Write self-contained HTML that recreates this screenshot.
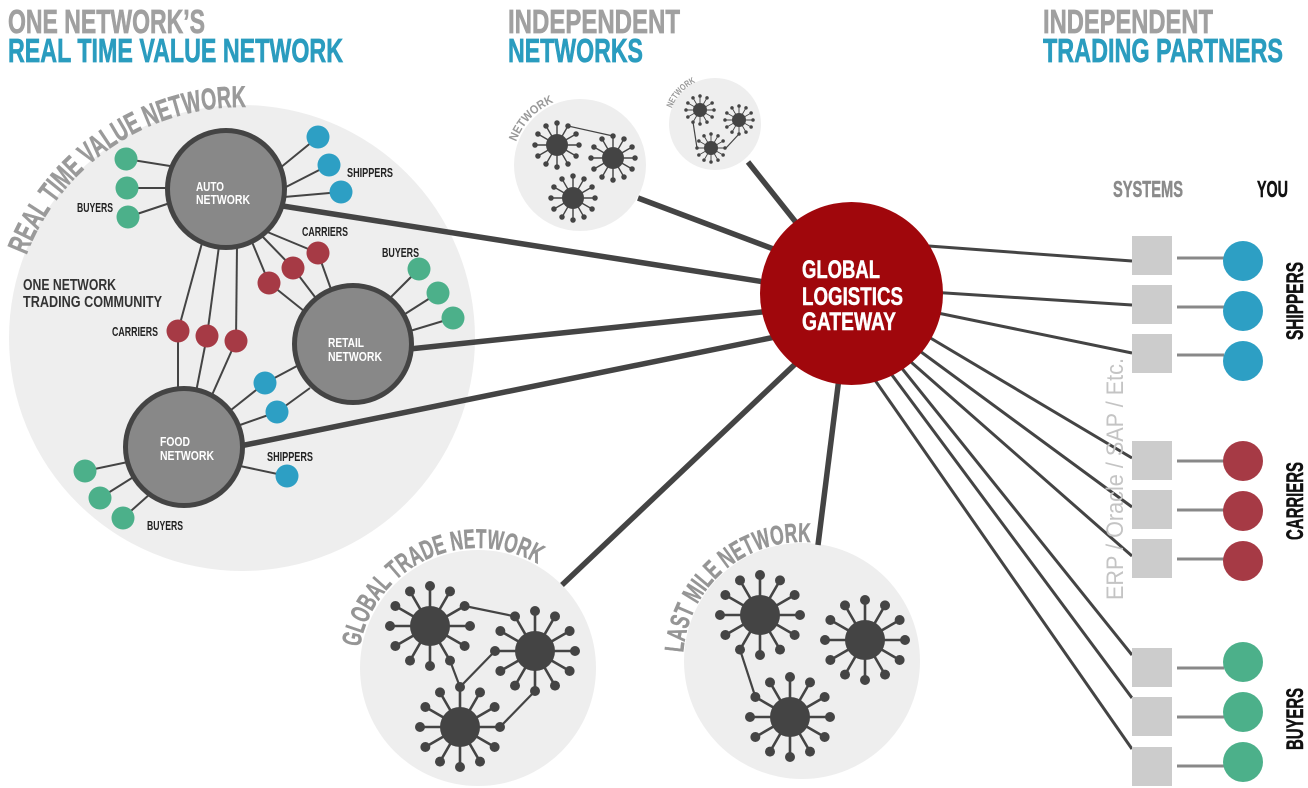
<!DOCTYPE html>
<html>
<head>
<meta charset="utf-8">
<style>
  html,body{margin:0;padding:0;background:#fff;}
  svg{display:block;}
  text{font-family:"Liberation Sans",sans-serif;}
</style>
</head>
<body>
<svg width="1308" height="788" viewBox="0 0 1308 788" xmlns="http://www.w3.org/2000/svg">
  <defs>
    <g id="hub">
      <path d="M-40 0H40M0 -40V40M-34.64 -20L34.64 20M-34.64 20L34.64 -20M-20 -34.64L20 34.64M-20 34.64L20 -34.64" stroke="#444" stroke-width="2.6" fill="none"/>
      <circle r="20" fill="#444"/>
      <g fill="#444">
        <circle cx="40" cy="0" r="5"/><circle cx="34.64" cy="20" r="5"/><circle cx="20" cy="34.64" r="5"/>
        <circle cx="0" cy="40" r="5"/><circle cx="-20" cy="34.64" r="5"/><circle cx="-34.64" cy="20" r="5"/>
        <circle cx="-40" cy="0" r="5"/><circle cx="-34.64" cy="-20" r="5"/><circle cx="-20" cy="-34.64" r="5"/>
        <circle cx="0" cy="-40" r="5"/><circle cx="20" cy="-34.64" r="5"/><circle cx="34.64" cy="-20" r="5"/>
      </g>
    </g>
    <path id="arcRTVN" d="M26.34 255.22 A231 231 0 0 1 246.03 107.03" fill="none"/>
    <path id="arcGTN" d="M359.82 647.16 A120 120 0 0 1 538 564.08" fill="none"/>
    <path id="arcLMN" d="M683.29 652.7 A119 119 0 0 1 810.3 542.29" fill="none"/>
    <path id="arcN1" d="M516.1 141.74 A68 68 0 0 1 553.43 102.41" fill="none"/>
    <path id="arcN2" d="M671.77 108.27 A46 46 0 0 1 695.56 82.31" fill="none"/>
  </defs>

  <!-- background circles -->
  <circle cx="242" cy="338" r="233" fill="#eeeeee"/>
  <circle cx="580" cy="165" r="66" fill="#eeeeee"/>
  <circle cx="715" cy="124" r="46" fill="#eeeeee"/>
  <circle cx="478" cy="668" r="118" fill="#eeeeee"/>
  <circle cx="802" cy="661" r="118" fill="#eeeeee"/>

  <!-- curved labels -->
  <text font-size="30" font-weight="bold" fill="#9a9a9a" stroke="#9a9a9a" stroke-width="0.6"><textPath href="#arcRTVN" textLength="282" lengthAdjust="spacingAndGlyphs">REAL TIME VALUE NETWORK</textPath></text>
  <text font-size="27" font-weight="bold" fill="#959595" stroke="#959595" stroke-width="0.5"><textPath href="#arcGTN" textLength="230" lengthAdjust="spacingAndGlyphs">GLOBAL TRADE NETWORK</textPath></text>
  <text font-size="27" font-weight="bold" fill="#959595" stroke="#959595" stroke-width="0.5"><textPath href="#arcLMN" textLength="187" lengthAdjust="spacingAndGlyphs">LAST MILE NETWORK</textPath></text>
  <text font-size="12" font-weight="bold" fill="#999"><textPath href="#arcN1" textLength="56" lengthAdjust="spacingAndGlyphs">NETWORK</textPath></text>
  <text font-size="9" font-weight="bold" fill="#999"><textPath href="#arcN2" textLength="36" lengthAdjust="spacingAndGlyphs">NETWORK</textPath></text>

  <!-- thick lines to gateway -->
  <g stroke="#444" stroke-width="5.5" stroke-linecap="butt">
    <line x1="270" y1="204" x2="790" y2="286"/>
    <line x1="400" y1="350" x2="790" y2="309"/>
    <line x1="235" y1="447" x2="790" y2="334"/>
    <line x1="638" y1="198" x2="800" y2="259"/>
    <line x1="748" y1="162" x2="810" y2="240"/>
    <line x1="562" y1="585" x2="810" y2="350"/>
    <line x1="818" y1="545" x2="840" y2="370"/>
  </g>

  <!-- right lines from gateway to systems -->
  <g stroke="#444" stroke-width="3">
    <line x1="915" y1="245" x2="1132" y2="261"/>
    <line x1="930" y1="292" x2="1132" y2="305"/>
    <line x1="928" y1="311" x2="1132" y2="353"/>
    <line x1="922" y1="333" x2="1132" y2="458"/>
    <line x1="913" y1="346" x2="1132" y2="507"/>
    <line x1="903" y1="355" x2="1132" y2="556"/>
    <line x1="896" y1="361" x2="1132" y2="655"/>
    <line x1="886" y1="367" x2="1132" y2="698"/>
    <line x1="870" y1="373" x2="1132" y2="749"/>
  </g>

  <!-- thin lines inside RTVN -->
  <g stroke="#444" stroke-width="2">
    <line x1="126" y1="159" x2="170" y2="166"/>
    <line x1="127" y1="188" x2="168" y2="188"/>
    <line x1="128" y1="217" x2="170" y2="203"/>
    <line x1="280" y1="168" x2="318" y2="137"/>
    <line x1="284" y1="188" x2="329" y2="165"/>
    <line x1="284" y1="197" x2="341" y2="192"/>
    <line x1="265" y1="231" x2="318" y2="253"/>
    <line x1="318" y1="253" x2="332" y2="292"/>
    <line x1="262" y1="236" x2="293" y2="268"/>
    <line x1="293" y1="268" x2="315" y2="297"/>
    <line x1="252" y1="242" x2="269" y2="283"/>
    <line x1="269" y1="283" x2="304" y2="311"/>
    <line x1="390" y1="298" x2="419" y2="269"/>
    <line x1="405" y1="314" x2="438" y2="293"/>
    <line x1="410" y1="331" x2="453" y2="318"/>
    <line x1="202" y1="243" x2="178" y2="331"/>
    <line x1="178" y1="331" x2="178" y2="392"/>
    <line x1="219" y1="246" x2="207" y2="336"/>
    <line x1="207" y1="336" x2="196" y2="392"/>
    <line x1="237" y1="246" x2="236" y2="341"/>
    <line x1="236" y1="341" x2="212" y2="395"/>
    <line x1="297" y1="366" x2="265" y2="383"/>
    <line x1="265" y1="383" x2="231" y2="410"/>
    <line x1="310" y1="388" x2="277" y2="412"/>
    <line x1="277" y1="412" x2="240" y2="425"/>
    <line x1="240" y1="466" x2="287" y2="476"/>
    <line x1="85" y1="471" x2="128" y2="462"/>
    <line x1="100" y1="498" x2="135" y2="476"/>
    <line x1="123" y1="518" x2="150" y2="494"/>
  </g>

  <!-- network hubs -->
  <g fill="#888" stroke="#444" stroke-width="5">
    <circle cx="226" cy="189" r="58.5"/>
    <circle cx="353" cy="344" r="58.5"/>
    <circle cx="184" cy="447" r="58.5"/>
  </g>
  <g font-weight="bold" font-size="13" fill="#fff">
    <text x="196" y="191" textLength="28" lengthAdjust="spacingAndGlyphs">AUTO</text>
    <text x="196" y="204" textLength="54" lengthAdjust="spacingAndGlyphs">NETWORK</text>
    <text x="328" y="347" textLength="36" lengthAdjust="spacingAndGlyphs">RETAIL</text>
    <text x="328" y="361" textLength="54" lengthAdjust="spacingAndGlyphs">NETWORK</text>
    <text x="160" y="446" textLength="30" lengthAdjust="spacingAndGlyphs">FOOD</text>
    <text x="160" y="460" textLength="54" lengthAdjust="spacingAndGlyphs">NETWORK</text>
  </g>

  <!-- colored nodes -->
  <g fill="#4cb08a">
    <circle cx="126" cy="159" r="11.5"/>
    <circle cx="127" cy="188" r="11.5"/>
    <circle cx="128" cy="217" r="11.5"/>
    <circle cx="419" cy="269" r="11.5"/>
    <circle cx="438" cy="293" r="11.5"/>
    <circle cx="453" cy="318" r="11.5"/>
    <circle cx="85" cy="471" r="11.5"/>
    <circle cx="100" cy="498" r="11.5"/>
    <circle cx="123" cy="518" r="11.5"/>
  </g>
  <g fill="#2d9fc4">
    <circle cx="318" cy="137" r="11.5"/>
    <circle cx="329" cy="165" r="11.5"/>
    <circle cx="341" cy="192" r="11.5"/>
    <circle cx="265" cy="383" r="11.5"/>
    <circle cx="277" cy="412" r="11.5"/>
    <circle cx="287" cy="476" r="11.5"/>
  </g>
  <g fill="#a63a45">
    <circle cx="318" cy="253" r="11.5"/>
    <circle cx="293" cy="268" r="11.5"/>
    <circle cx="269" cy="283" r="11.5"/>
    <circle cx="178" cy="331" r="11.5"/>
    <circle cx="207" cy="336" r="11.5"/>
    <circle cx="236" cy="341" r="11.5"/>
  </g>

  <!-- small labels -->
  <g font-weight="bold" font-size="13" fill="#222">
    <text x="77" y="212" textLength="36" lengthAdjust="spacingAndGlyphs">BUYERS</text>
    <text x="347" y="177" textLength="46" lengthAdjust="spacingAndGlyphs">SHIPPERS</text>
    <text x="302" y="236" textLength="46" lengthAdjust="spacingAndGlyphs">CARRIERS</text>
    <text x="382" y="257" textLength="37" lengthAdjust="spacingAndGlyphs">BUYERS</text>
    <text x="112" y="336" textLength="46" lengthAdjust="spacingAndGlyphs">CARRIERS</text>
    <text x="267" y="461" textLength="46" lengthAdjust="spacingAndGlyphs">SHIPPERS</text>
    <text x="147" y="530" textLength="36" lengthAdjust="spacingAndGlyphs">BUYERS</text>
  </g>
  <g font-weight="bold" font-size="16" fill="#333">
    <text x="23" y="290" textLength="93" lengthAdjust="spacingAndGlyphs">ONE NETWORK</text>
    <text x="23" y="307" textLength="139" lengthAdjust="spacingAndGlyphs">TRADING COMMUNITY</text>
  </g>

  <!-- independent small networks -->
  <g stroke="#444" stroke-width="1.2">
    <line x1="568" y1="126" x2="613" y2="136"/>
    <line x1="693" y1="122" x2="697" y2="148"/>
    <line x1="739" y1="134" x2="726" y2="148"/>
  </g>
  <use href="#hub" transform="translate(557 145) scale(0.55)"/>
  <use href="#hub" transform="translate(613 158) scale(0.55)"/>
  <use href="#hub" transform="translate(573 198) scale(0.55)"/>
  <use href="#hub" transform="translate(700 110) scale(0.35)"/>
  <use href="#hub" transform="translate(739 120) scale(0.35)"/>
  <use href="#hub" transform="translate(711 148) scale(0.35)"/>

  <!-- global trade network -->
  <g stroke="#444" stroke-width="2.2">
    <line x1="464.6" y1="606" x2="515" y2="616.4"/>
    <line x1="450" y1="660.6" x2="460" y2="687"/>
    <line x1="460" y1="687" x2="495" y2="651"/>
    <line x1="500" y1="727" x2="535" y2="691"/>
  </g>
  <use href="#hub" transform="translate(430 626)"/>
  <use href="#hub" transform="translate(535 651)"/>
  <use href="#hub" transform="translate(460 727)"/>

  <!-- last mile network -->
  <g stroke="#444" stroke-width="2.2">
    <line x1="740" y1="649.6" x2="755.4" y2="697"/>
  </g>
  <use href="#hub" transform="translate(760 615)"/>
  <use href="#hub" transform="translate(865 640)"/>
  <use href="#hub" transform="translate(790 717)"/>

  <!-- gateway -->
  <circle cx="851.5" cy="293.5" r="91.5" fill="#a0070c"/>
  <g font-weight="bold" font-size="25" fill="#fff" stroke="#fff" stroke-width="0.5">
    <text x="802" y="278" textLength="78" lengthAdjust="spacingAndGlyphs">GLOBAL</text>
    <text x="802" y="305" textLength="101" lengthAdjust="spacingAndGlyphs">LOGISTICS</text>
    <text x="802" y="330" textLength="94" lengthAdjust="spacingAndGlyphs">GATEWAY</text>
  </g>

  <!-- ERP text -->
  <text transform="translate(1123 479) rotate(-90)" text-anchor="middle" font-size="24" fill="#c4c4c4" textLength="242" lengthAdjust="spacingAndGlyphs">ERP / Oracle / SAP / Etc.</text>

  <!-- systems boxes -->
  <g fill="#cccccc">
    <rect x="1132" y="236" width="40" height="39"/>
    <rect x="1132" y="285" width="40" height="39"/>
    <rect x="1132" y="334" width="40" height="39"/>
    <rect x="1132" y="441" width="40" height="39"/>
    <rect x="1132" y="490" width="40" height="39"/>
    <rect x="1132" y="539" width="40" height="39"/>
    <rect x="1132" y="648" width="40" height="39"/>
    <rect x="1132" y="697" width="40" height="39"/>
    <rect x="1132" y="747" width="40" height="39"/>
  </g>
  <g stroke="#888" stroke-width="3">
    <line x1="1177" y1="258" x2="1224" y2="258"/>
    <line x1="1177" y1="307" x2="1224" y2="307"/>
    <line x1="1177" y1="355" x2="1224" y2="355"/>
    <line x1="1177" y1="461" x2="1224" y2="461"/>
    <line x1="1177" y1="510" x2="1224" y2="510"/>
    <line x1="1177" y1="559" x2="1224" y2="559"/>
    <line x1="1177" y1="668" x2="1224" y2="668"/>
    <line x1="1177" y1="717" x2="1224" y2="717"/>
    <line x1="1177" y1="766" x2="1224" y2="766"/>
  </g>
  <g fill="#2d9fc4">
    <circle cx="1243" cy="261" r="20"/>
    <circle cx="1243" cy="311" r="20"/>
    <circle cx="1243" cy="361" r="20"/>
  </g>
  <g fill="#a63a45">
    <circle cx="1243" cy="461" r="20"/>
    <circle cx="1243" cy="511" r="20"/>
    <circle cx="1243" cy="561" r="20"/>
  </g>
  <g fill="#4cb08a">
    <circle cx="1243" cy="662" r="20"/>
    <circle cx="1243" cy="712" r="20"/>
    <circle cx="1243" cy="762" r="20"/>
  </g>

  <!-- vertical labels -->
  <g font-weight="bold" font-size="24" fill="#111" stroke="#111" stroke-width="0.5" text-anchor="middle">
    <text transform="translate(1303 301) rotate(-90)" textLength="78" lengthAdjust="spacingAndGlyphs">SHIPPERS</text>
    <text transform="translate(1303 501) rotate(-90)" textLength="78" lengthAdjust="spacingAndGlyphs">CARRIERS</text>
    <text transform="translate(1303 719) rotate(-90)" textLength="62" lengthAdjust="spacingAndGlyphs">BUYERS</text>
  </g>

  <g font-weight="bold" font-size="23" stroke-width="0.5">
    <text x="1113" y="197" fill="#8a8a8a" stroke="#8a8a8a" textLength="70" lengthAdjust="spacingAndGlyphs">SYSTEMS</text>
    <text x="1257" y="197" fill="#111" stroke="#111" textLength="31" lengthAdjust="spacingAndGlyphs">YOU</text>
  </g>

  <!-- headers -->
  <g font-weight="bold" font-size="33" stroke-width="0.7">
    <text x="8" y="33" fill="#a0a0a0" stroke="#a0a0a0" textLength="197" lengthAdjust="spacingAndGlyphs">ONE NETWORK’S</text>
    <text x="8" y="62" fill="#2a9cbf" stroke="#2a9cbf" textLength="335" lengthAdjust="spacingAndGlyphs">REAL TIME VALUE NETWORK</text>
    <text x="508" y="33" fill="#a0a0a0" stroke="#a0a0a0" textLength="172" lengthAdjust="spacingAndGlyphs">INDEPENDENT</text>
    <text x="508" y="62" fill="#2a9cbf" stroke="#2a9cbf" textLength="135" lengthAdjust="spacingAndGlyphs">NETWORKS</text>
    <text x="1043" y="33" fill="#a0a0a0" stroke="#a0a0a0" textLength="170" lengthAdjust="spacingAndGlyphs">INDEPENDENT</text>
    <text x="1043" y="62" fill="#2a9cbf" stroke="#2a9cbf" textLength="240" lengthAdjust="spacingAndGlyphs">TRADING PARTNERS</text>
  </g>
</svg>
</body>
</html>
